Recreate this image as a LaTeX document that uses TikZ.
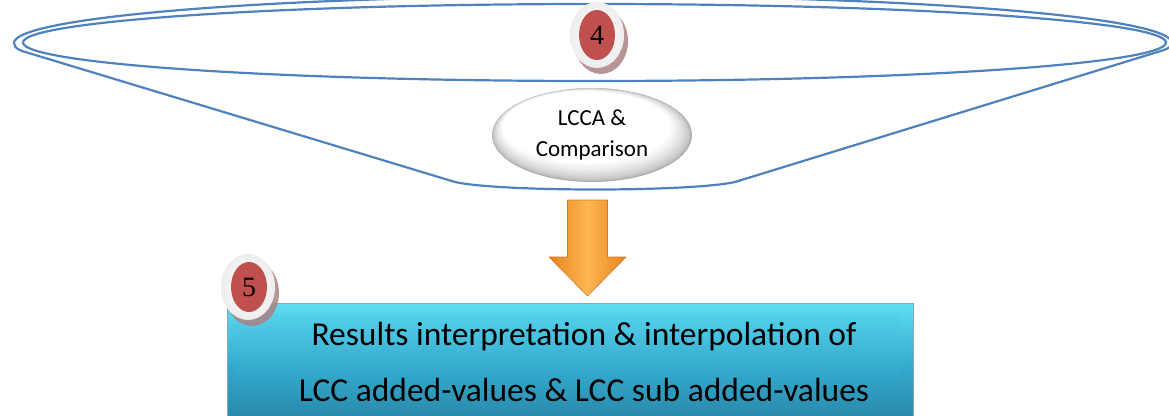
\documentclass[tikz,border=0pt]{standalone}
\usepackage{fontspec}
\setmainfont{Carlito}
\newfontfamily\numfont{Liberation Serif}
\usetikzlibrary{shapes.geometric,shadows}

\definecolor{funnelblue}{HTML}{4F81BD}
\definecolor{badgered}{HTML}{C0504D}
\definecolor{badgeshadow}{HTML}{AD8183}
\definecolor{arrowmid}{HTML}{FCB652}
\definecolor{arrowedge}{HTML}{E8841F}
\definecolor{arrowline}{HTML}{D9761A}
\definecolor{boxtop}{HTML}{5EDDF2}
\definecolor{boxmid}{HTML}{33A8CC}
\definecolor{boxbot}{HTML}{277F9F}
\definecolor{boxedge}{HTML}{8FA6B0}

\tikzset{
  funnelline/.style={draw=funnelblue, line width=2.2pt, line join=round},
  ring/.style={ellipse, minimum width=54pt, minimum height=66pt, inner sep=0pt,
    shading=radial, inner color=white, outer color=black!7,
    drop shadow={shadow xshift=4pt, shadow yshift=-6pt, fill=badgeshadow, opacity=0.85}},
  redbadge/.style={ellipse, minimum width=36pt, minimum height=50pt, inner sep=0pt,
    fill=badgered, font=\numfont\fontsize{28}{30}\selectfont},
  pillow/.style={ellipse, minimum width=200pt, minimum height=94pt, inner sep=0pt,
    align=center, font=\fontsize{23}{31}\selectfont},
  blockarrow/.style={shading=axis, left color=arrowedge, right color=arrowedge,
    middle color=arrowmid, draw=arrowline, line width=0.6pt, line join=round},
  resultbox/.style={rectangle, anchor=north west, inner sep=0pt,
    minimum width=686pt, minimum height=130pt, shading=axis,
    top color=boxtop, bottom color=boxbot, middle color=boxmid,
    draw=boxedge, line width=0.8pt},
  resulttext/.style={align=center, font=\fontsize{33.5}{56}\selectfont}
}

\begin{document}
\begin{tikzpicture}[x=1pt, y=-1pt]
  \useasboundingbox (0,0) rectangle (1169,415);
  \clip (0,0) rectangle (1169,415);

  % funnel: upper half of the rim ellipse, the two sides and the curved bottom
  \draw[funnelline] (455,182) -- (22,51) .. controls (15,48) and (14,46) .. (14,43)
    arc[start angle=180, end angle=360, x radius=579, y radius=47]
    .. controls (1172,46) and (1169,48) .. (1164,50) -- (735,182)
    .. controls (690,192) and (500,192) .. cycle;
  % inner rim of the funnel mouth
  \draw[funnelline] (594.5,42.5) ellipse[x radius=571.5, y radius=38.5];

  % step 4
  \node[ring] (ring4) at (597,35) {};
  \node[redbadge] (badge4) at (597,35) {4};

  % white pillow with a soft grey rim, built from nested ellipses
  \foreach \k in {0,...,16}{
    \pgfmathsetmacro\pc{100*(\k/16)^0.55}
    \fill[white!\pc!black!32] (592-0.35*\k, 135-0.5*\k)
      ellipse[x radius={100-1.0*\k}, y radius={47-0.7*\k}];
  }
  \node[pillow] (lcca) at (592,135) {LCCA \&\\Comparison};

  % result box
  \node[resultbox] (results) at (227,303) {};
  \shade[top color=boxtop!75!boxmid, bottom color=boxbot, middle color=boxmid,
    opacity=0.85]
    ([shift={(9,11)}]results.north west) rectangle ([shift={(-13,0)}]results.south east);
  \node[resulttext] (restext) at (584,362)
    {Results interpretation \& interpolation of\\LCC added-values \& LCC sub added-values};

  % arrow from the funnel down to the result box
  \coordinate (arrtop) at (587.5,200);
  \coordinate (arrtip) at (587.5,296);
  \path[blockarrow] ([xshift=-20]arrtop) -- ([xshift=20]arrtop)
    -- ([xshift=20]arrtop |- 0,257) -- ([xshift=38.5]arrtop |- 0,257) -- (arrtip)
    -- ([xshift=-38.5]arrtop |- 0,257) -- ([xshift=-20]arrtop |- 0,257) -- cycle;

  % step 5
  \node[ring] (ring5) at (248,287) {};
  \node[redbadge] (badge5) at (249,287) {5};
\end{tikzpicture}
\end{document}
